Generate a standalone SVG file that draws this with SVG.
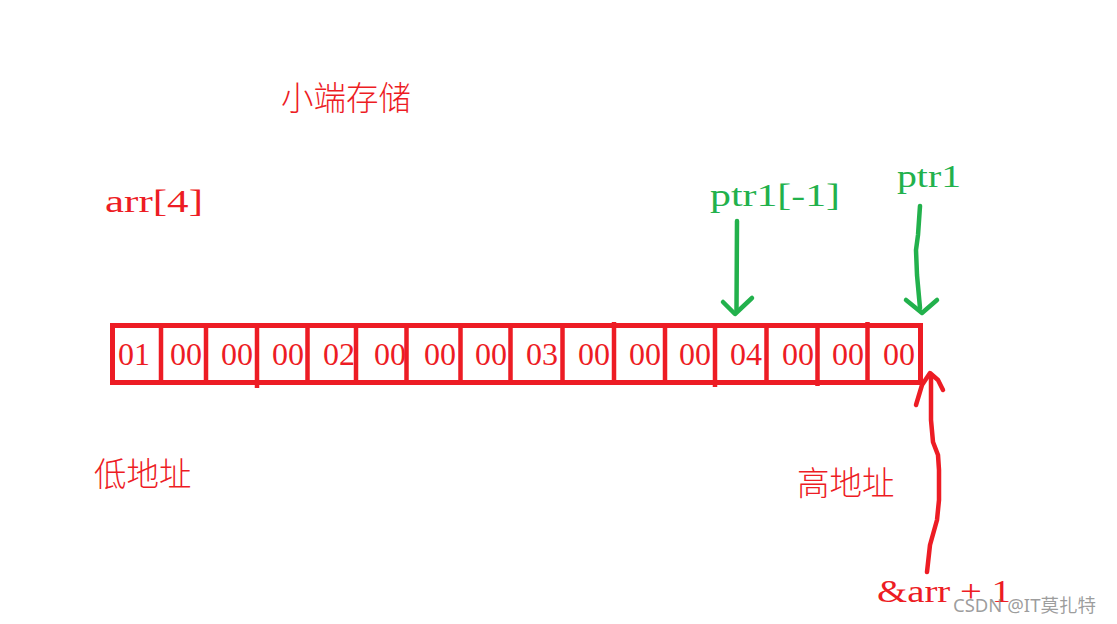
<svg xmlns="http://www.w3.org/2000/svg" width="1117" height="624" viewBox="0 0 1117 624">
<style>
.red{fill:#ed1c24}
.grn{fill:#22b14c}
.cjk{font-family:"Noto Sans CJK SC","Noto Sans CJK JP",sans-serif;font-size:32.5px;font-weight:300}
.lat{font-family:"Liberation Serif",serif;font-size:31px}
.dig{font-family:"Liberation Serif",serif;font-size:32px;fill:#ed1c24;text-anchor:middle}
.box{fill:none;stroke:#ed1c24;stroke-width:5}
.div{stroke:#ed1c24;stroke-width:4.5;fill:none}
.gs{fill:none;stroke:#22b14c;stroke-width:4.5;stroke-linecap:round;stroke-linejoin:round}
.rs{fill:none;stroke:#ed1c24;stroke-width:4.5;stroke-linecap:round;stroke-linejoin:round}
</style>
<rect width="1117" height="624" fill="#ffffff"/>
<g id="title"><text class="cjk red" x="281" y="110">小端存储</text></g>
<g id="arr-label"><text class="lat red" x="105" y="212" textLength="98" lengthAdjust="spacingAndGlyphs">arr[4]</text></g>
<g id="low-addr"><text class="cjk red" x="94" y="486">低地址</text></g>
<g id="high-addr"><text class="cjk red" x="797" y="495">高地址</text></g>
<g id="ptr1m1-label"><text class="lat grn" x="710" y="206" textLength="130" lengthAdjust="spacingAndGlyphs">ptr1[-1]</text></g>
<g id="ptr1-label"><text class="lat grn" x="897" y="187" textLength="64" lengthAdjust="spacingAndGlyphs">ptr1</text></g>
<g id="arrp1-label"><text class="lat red" x="877" y="602" textLength="134" lengthAdjust="spacingAndGlyphs">&amp;arr + 1</text></g>
<g id="array">
<rect class="box" x="112.5" y="325.5" width="808" height="57"/>
<path class="div" d="M161 325.5V382.5M206 325.5V382.5M257 325.5V388M307.5 325.5V382.5M356 325.5V382.5M406.5 325.5V384M460.5 325.5V382.5M510.5 325.5V382.5M562.5 325.5V382.5M614 322V385M665 325.5V382.5M715 325.5V387M766.5 325.5V382.5M817.5 325.5V386M867.5 322V385"/>
<text class="dig" x="134" y="365">01</text>
<text class="dig" x="186" y="365">00</text>
<text class="dig" x="237" y="365">00</text>
<text class="dig" x="288" y="365">00</text>
<text class="dig" x="339" y="365">02</text>
<text class="dig" x="390" y="365">00</text>
<text class="dig" x="440" y="365">00</text>
<text class="dig" x="491" y="365">00</text>
<text class="dig" x="542" y="365">03</text>
<text class="dig" x="594" y="365">00</text>
<text class="dig" x="645" y="365">00</text>
<text class="dig" x="695" y="365">00</text>
<text class="dig" x="746" y="365">04</text>
<text class="dig" x="798" y="365">00</text>
<text class="dig" x="848" y="365">00</text>
<text class="dig" x="899" y="365">00</text>
</g>
<g id="connectors">
<path class="gs" d="M737 221L736.5 311"/>
<path class="gs" d="M723 302L735 314L752 298"/>
<path class="gs" d="M920 206L918 235L916 250L917 275L920 308"/>
<path class="gs" d="M906 300L922 313L937 300"/>
<path class="rs" d="M927 572L930 545L937 520L939 500L939 470L938 455L933 442L931 420L931 395L931 375"/>
<path class="rs" d="M916 405L922 385L930 373L938 380L943 390"/>
</g>
<g id="watermark"><text x="953" y="612" font-family="'Noto Sans','Noto Sans CJK SC',sans-serif" font-size="18.5" fill="#8c8c8c" fill-opacity="0.85">CSDN @IT莫扎特</text></g>
</svg>
